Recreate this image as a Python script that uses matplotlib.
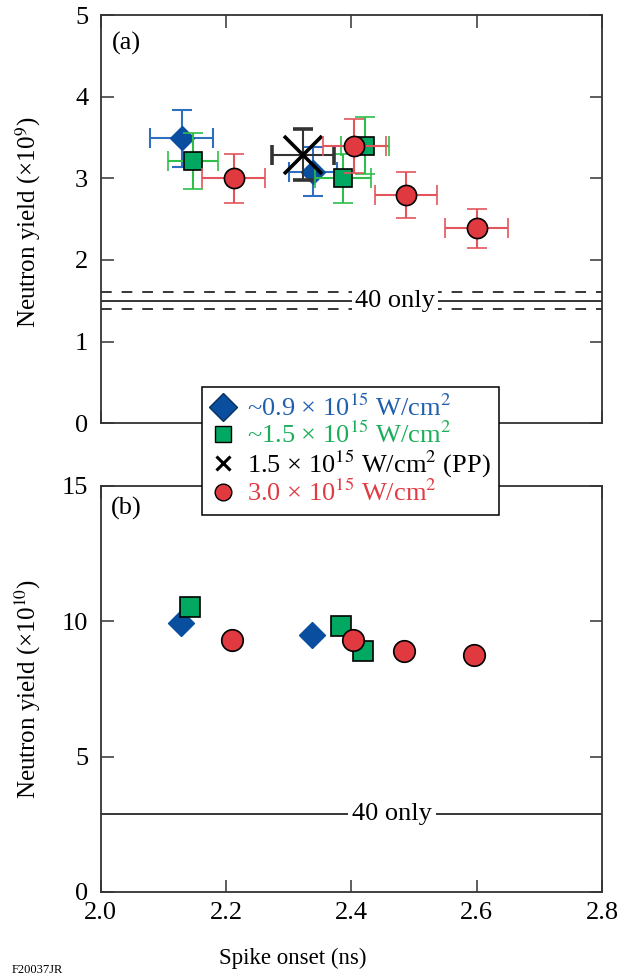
import matplotlib
matplotlib.use("Agg")
import matplotlib.pyplot as plt
from matplotlib.lines import Line2D

plt.rcParams["font.family"] = ["Liberation Serif", "DejaVu Serif"]
plt.rcParams["mathtext.fontset"] = "stix"

# ---- panel (a): neutron yield (x10^9) vs spike onset, with error bars ----
a_blue_x = [2.129, 2.339]
a_blue_y = [3.49, 3.08]
a_blue_xerr = [0.05, 0.038]
a_blue_yerr = [0.35, 0.30]

a_green_x = [2.147, 2.387, 2.422]
a_green_y = [3.21, 3.00, 3.40]
a_green_xerr = [0.04, 0.045, 0.038]
a_green_yerr = [0.34, 0.30, 0.35]

a_black_x = [2.323]
a_black_y = [3.29]
a_black_xerr = [0.05]
a_black_yerr = [0.31]

a_red_x = [2.212, 2.405, 2.487, 2.600]
a_red_y = [3.00, 3.40, 2.80, 2.39]
a_red_xerr = [0.05, 0.05, 0.05, 0.05]
a_red_yerr = [0.30, 0.33, 0.28, 0.24]

a_ref_level = 1.50
a_ref_band = [1.40, 1.61]

# ---- panel (b): neutron yield (x10^10) vs spike onset ----
b_blue_x = [2.128, 2.338]
b_blue_y = [9.95, 9.49]
b_green_x = [2.143, 2.384, 2.419]
b_green_y = [10.54, 9.83, 8.90]
b_red_x = [2.210, 2.403, 2.484, 2.596]
b_red_y = [9.31, 9.31, 8.90, 8.74]
b_ref_level = 2.88

legend_labels = [
    r"~0.9 × 10$^{15}$ W/cm$^{2}$",
    r"~1.5 × 10$^{15}$ W/cm$^{2}$",
    r"1.5 × 10$^{15}$ W/cm$^{2}$ (PP)",
    r"3.0 × 10$^{15}$ W/cm$^{2}$",
]

BLUE, BLUE_BAR, BLUE_TXT = "#0a4f9f", "#2f6fbf", "#1f5fae"
GREEN, GREEN_BAR, GREEN_TXT = "#00a862", "#2fbe4a", "#1aae5a"
RED, RED_BAR, RED_TXT = "#e03a40", "#e4545c", "#e03a42"
SPINE = "#333333"

fig = plt.figure(figsize=(6.24, 9.75), dpi=100)
W, H = 624, 975


def px_axes(left, top, right, bottom):
    return fig.add_axes([left / W, 1 - bottom / H, (right - left) / W, (bottom - top) / H])


ax_a = px_axes(100.7, 15, 602, 423.3)
ax_b = px_axes(100.7, 486, 602, 892)

for ax in (ax_a, ax_b):
    ax.set_xlim(2.0, 2.8)
    ax.set_xticks([2.0, 2.2, 2.4, 2.6, 2.8])
    for s in ax.spines.values():
        s.set_linewidth(1.3)
        s.set_color(SPINE)
    ax.tick_params(direction="in", length=9, width=1.1, color=SPINE,
                   top=True, right=True, labelsize=19, pad=9)

ax_a.set_ylim(0, 5)
ax_a.set_yticks([0, 1, 2, 3, 4, 5])
ax_a.tick_params(labelbottom=False)
ax_b.set_ylim(0, 15)
ax_b.set_yticks([0, 5, 10, 15])
ax_b.tick_params(axis="x", pad=7)

eb = dict(capsize=7, elinewidth=1.5, capthick=1.5, linestyle="none")

ax_a.errorbar(a_blue_x, a_blue_y, xerr=a_blue_xerr, yerr=a_blue_yerr, fmt="D",
              ms=12, mfc=BLUE, mec=BLUE, ecolor=BLUE_BAR, zorder=3, **eb)
ax_a.errorbar(a_green_x, a_green_y, xerr=a_green_xerr, yerr=a_green_yerr, fmt="s",
              ms=13.5, mfc=GREEN, mec="black", mew=1.2, ecolor=GREEN_BAR, zorder=4, **eb)
ax_a.errorbar(a_black_x, a_black_y, xerr=a_black_xerr, yerr=a_black_yerr, fmt="x",
              ms=27, mec="black", mew=2.6, ecolor=SPINE, zorder=5, **eb)
ax_a.errorbar(a_red_x, a_red_y, xerr=a_red_xerr, yerr=a_red_yerr, fmt="o",
              ms=14.5, mfc=RED, mec="black", mew=1.2, ecolor=RED_BAR, zorder=6, **eb)

ax_a.axhline(a_ref_level, color="black", lw=1.1, zorder=1)
for lvl in a_ref_band:
    ax_a.axhline(lvl, color="black", lw=1.1, ls=(0, (7, 6.5)), zorder=1)
ax_a.text(2.47, a_ref_level, "40 only", fontsize=19, ha="center", va="center",
          bbox=dict(facecolor="white", edgecolor="none", pad=2), zorder=2)

ax_b.plot(b_blue_x, b_blue_y, "D", ms=13, mfc=BLUE, mec=BLUE, zorder=3)
ax_b.plot(b_green_x, b_green_y, "s", ms=15, mfc=GREEN, mec="black", mew=1.2, zorder=4)
ax_b.plot(b_red_x, b_red_y, "o", ms=15.5, mfc=RED, mec="black", mew=1.2, zorder=5)
ax_b.axhline(b_ref_level, color="black", lw=1.1, zorder=1)
ax_b.text(2.465, b_ref_level, "40 only", fontsize=19, ha="center", va="center",
          bbox=dict(facecolor="white", edgecolor="none", pad=3), zorder=2)

ax_a.text(0.022, 0.93, "(a)", transform=ax_a.transAxes, fontsize=19, va="center")
ax_b.text(0.02, 0.945, "(b)", transform=ax_b.transAxes, fontsize=19, va="center")

fig.text(28 / W, 1 - 222 / H, r"Neutron yield (×10$^{9}$)", rotation=90,
         ha="center", va="center", fontsize=18)
fig.text(28 / W, 1 - 689 / H, r"Neutron yield (×10$^{10}$)", rotation=90,
         ha="center", va="center", fontsize=18)
fig.text(293 / W, 1 - 958 / H, "Spike onset (ns)", ha="center", va="center", fontsize=16.5)
fig.text(12 / W, 1 - 970 / H, "F20037JR", ha="left", va="center", fontsize=9)

handles = [
    Line2D([], [], ls="none", marker="D", ms=14, mfc=BLUE, mec="#08305f", mew=1.0),
    Line2D([], [], ls="none", marker="s", ms=11, mfc=GREEN, mec="black", mew=1.0),
    Line2D([], [], ls="none", marker="x", ms=9.5, mec="black", mew=2.2),
    Line2D([], [], ls="none", marker="o", ms=12, mfc=RED, mec="black", mew=1.0),
]
leg = fig.legend(handles, legend_labels, loc="upper left",
                 bbox_to_anchor=(201.7 / W, 1 - 386.7 / H), fontsize=19,
                 frameon=True, fancybox=False, framealpha=1, edgecolor="black",
                 handlelength=1.0, handletextpad=0.4, labelspacing=0.02,
                 borderpad=0.32, borderaxespad=0)
leg.get_frame().set_linewidth(1.1)
for t, c in zip(leg.get_texts(), [BLUE_TXT, GREEN_TXT, "black", RED_TXT]):
    t.set_color(c)

fig.savefig("out.png", dpi=100)
